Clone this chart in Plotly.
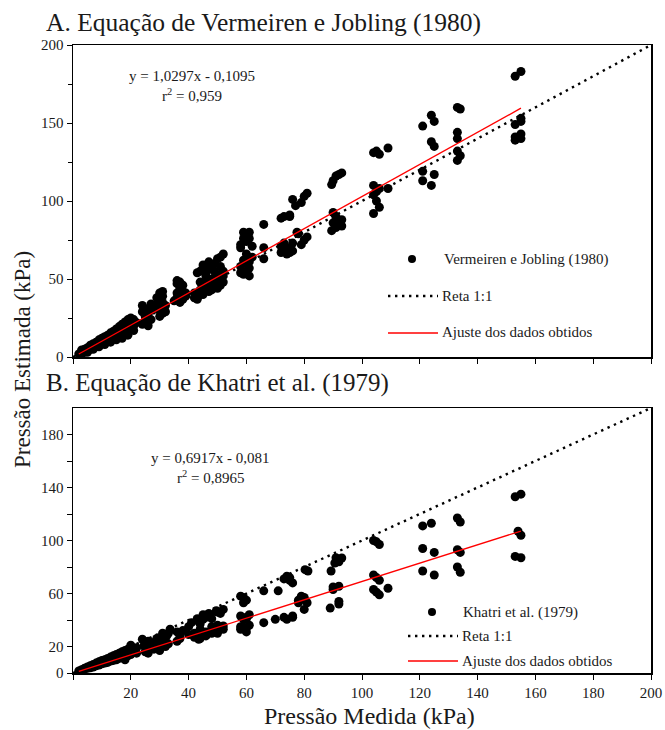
import plotly.graph_objects as go
from plotly.subplots import make_subplots

# ---------------- DATA ----------------
# Panel A: Vermeiren e Jobling (1980)  -- measured (x) vs estimated (y), kPa
xa = [2, 3, 3, 4, 4, 5, 5, 6, 6, 7, 7, 8, 8, 9, 9, 10, 10, 11, 11, 12, 12, 13, 13, 14, 14,
      15, 15, 16, 16, 17, 17, 18, 18, 19, 19, 20, 20, 19, 17, 21, 20,
      3, 4, 5, 6, 7, 8, 9, 10, 11, 12, 13, 14, 15, 16, 17, 18, 19, 20, 21, 22, 21, 15, 13, 11, 9, 7, 5, 3,
      24, 24, 25, 25, 26, 27, 27, 25, 26, 24, 27,
      29, 30, 31, 30, 29, 31, 30, 32, 31, 30, 31, 29, 31, 32, 30,
      36, 36, 38, 36, 38, 37, 35, 39, 38, 37, 37, 39, 36,
      45, 47, 50, 52, 44, 48, 46, 43, 45, 47, 49, 51, 51, 49, 47, 44, 46, 49, 51,
      42, 43, 44, 45, 46, 47, 48, 49, 50, 51, 52, 43, 45, 48, 50, 52, 52, 42, 44, 47, 49, 51,
      58, 59, 60, 61, 60, 58, 59, 60, 61, 60, 59, 61, 58, 62, 59, 61, 62, 58, 60, 61,
      66, 66, 66,
      72, 75, 72, 74, 75, 73, 76, 73, 74, 72,
      81, 76, 77, 75, 77.5, 81, 76, 75, 80, 80, 79, 78, 79,
      89.5, 91, 93, 90, 91, 93, 93, 89.5, 91, 92, 90, 92, 90,
      104, 106, 109, 104, 106, 104, 105, 106, 104, 109, 105, 105,
      121, 124, 125, 124, 125, 121, 125, 121, 124,
      133, 134, 133, 133, 133, 134, 133,
      153, 155, 155, 153, 155, 153, 155, 153, 155]
ya = [2, 2.5, 3.5, 4, 3, 5, 4, 6, 5, 7, 6, 8, 6.5, 9, 7.5, 10, 8.5, 11, 9, 12.5, 10, 13, 11, 14.5, 12,
      16, 13, 17, 14, 19, 15, 20, 16, 22, 17, 23, 18, 14, 12, 24, 21,
      4.5, 5, 6, 7.5, 8.5, 9.5, 11, 12, 13, 14, 15.5, 16.5, 18, 19.5, 21, 22.5, 24, 25, 20, 22, 17, 11, 9.5, 8, 6.5, 5, 3, 2,
      33, 29, 26, 22, 20, 34, 24, 31, 28, 21, 30,
      38, 41, 42, 36, 31, 28, 26, 33, 35, 38, 39, 34, 31, 29, 30,
      49, 47, 46, 38, 37, 35, 36, 39, 42, 48, 44, 41, 41,
      57, 61, 63, 66, 55, 58, 52, 54, 59, 56, 60, 64, 58, 55, 50, 48, 49, 51, 52,
      41, 39, 43, 45, 44, 46, 48, 47, 50, 49, 48, 37, 40, 43, 44, 52, 55, 38, 40, 42, 45, 46,
      72, 80, 78, 76, 74, 70, 62, 60, 57, 55, 53, 52, 58, 64, 76, 80, 71, 54, 66, 61,
      85, 70, 63,
      89, 91, 67, 66, 70, 73, 68, 90, 68, 71,
      105, 101, 97, 90, 80, 77, 73, 67, 75, 103, 99, 79, 72,
      110.5, 116, 118, 92.6, 90, 88, 84, 81, 83, 117, 113, 86, 86,
      131, 130, 134, 110, 108, 104, 100, 96, 92, 108, 132, 106,
      148, 155, 151, 138, 135, 119, 117, 113, 110,
      160, 159, 144, 140, 132, 129, 126,
      180, 183, 153, 149, 151, 141, 143, 139, 140]

# Panel B: Khatri et al. (1979)
xb = [2, 3, 4, 5, 5, 6, 6, 7, 7, 8, 8, 9, 9, 10, 10, 11, 11, 12, 12, 13, 13, 14, 14,
      15, 15, 16, 16, 17, 17, 18, 18, 19, 19, 20, 20, 20, 18,
      3, 4, 6, 8, 10, 12, 14, 16, 18, 20, 21, 22, 22, 19, 17, 15, 13, 11, 9, 7,
      24, 24.5, 25, 26, 27, 27, 25, 26, 28, 29, 31, 33, 32, 30,
      30, 28, 33.6, 32.4, 31, 30, 32, 33,
      36, 37, 36, 38, 37, 40, 41, 40,
      52, 49.6, 47.5, 45, 43.5, 46, 44, 43, 45, 47, 50, 51, 48,
      52, 50, 48, 45, 43.5, 46, 42, 44, 50, 48, 44, 46, 48, 50, 52, 42, 44,
      58, 59, 60, 58, 59, 60, 58, 59, 60, 61, 59, 60, 61, 58, 60,
      66, 66,
      71, 75, 74, 76, 76, 74, 70, 73, 75, 73, 76,
      80.3, 81.3, 79, 80, 78, 80, 80, 81, 78,
      93, 90.6, 89.3, 92, 90, 92, 89, 92, 91, 90, 92,
      104, 106, 104, 106, 104, 106, 109, 105, 105, 105,
      121, 124, 121, 125, 121, 125,
      133, 134, 133, 134, 133, 134,
      153, 155, 154, 155, 153, 155]
yb = [1.5, 2, 3, 3.5, 4.5, 4, 5.5, 5, 6.5, 5.5, 7.5, 6, 8.5, 7, 9.5, 7.5, 10, 8, 11, 9, 12, 9.5, 13,
      10, 14, 11, 15, 11.5, 16, 12, 17, 13, 18, 14, 19, 21, 10,
      2.5, 3.5, 5, 6.5, 8, 9.5, 11, 13, 14.5, 16, 18, 19, 15, 15.5, 13.5, 12, 10.5, 9, 7, 4.5,
      25.5, 20.5, 16, 15, 23, 19, 22, 24, 21, 26, 25, 30, 24, 26,
      23, 18, 33, 28, 30, 17, 20, 22,
      31, 26, 24, 32, 28, 35, 38, 29,
      48, 47, 43, 40.5, 39, 42, 37, 41, 44, 45, 46, 45, 41,
      35.5, 33, 32, 30.7, 25.5, 28, 27, 29, 36, 30, 33, 31, 35, 30, 33, 30, 26,
      58, 53, 55, 43, 40.5, 42, 33, 34.5, 31, 36, 57, 41, 44, 35, 34,
      62, 38,
      62, 72, 73, 68, 43, 40.5, 40.5, 42, 70, 71, 42,
      78, 77, 58, 55.5, 53, 48, 57, 53, 55,
      86.8, 83, 77, 65.5, 63, 54, 49, 84, 87, 65, 52,
      100, 97, 74, 70, 63, 59, 64, 99, 72, 61,
      111, 113, 94, 91, 77, 74,
      117, 114, 93, 91, 80, 76,
      133, 135, 107, 104, 88, 87]

# Regression coefficients (slope, intercept) and r^2 as printed on the chart
fit_a = [1.0297, -0.1095]
fit_b = [0.6917, -0.081]
eq_a = ["y = 1,0297x - 0,1095", "r<sup>2</sup> = 0,959"]
eq_b = ["y = 0,6917x - 0,081", "r<sup>2</sup> = 0,8965"]
one_to_one = [0, 200]

title_a = "A. Equação de Vermeiren e Jobling (1980)"
title_b = "B. Equação de Khatri et al. (1979)"
legend_a = ["Vermeiren e Jobling (1980)", "Reta 1:1", "Ajuste dos dados obtidos"]
legend_b = ["Khatri et al. (1979)", "Reta 1:1", "Ajuste dos dados obtidos"]
x_ticks = [0, 20, 40, 60, 80, 100, 120, 140, 160, 180, 200]
x_labelled = [20, 40, 60, 80, 100, 120, 140, 160, 180, 200]
ya_ticks = [0, 50, 100, 150, 200]
ya_minor = [25, 75, 125, 175]
yb_ticks = [0, 20, 60, 100, 140, 180]
yb_minor = [40, 80, 120, 160]
ytitle = "Pressão Estimada (kPa)"
xtitle = "Pressão Medida (kPa)"

# ---------------- FIGURE ----------------
W, H = 665, 730
AX_L, AX_R, AX_T, AX_B = 73, 651, 45, 673      # plot-area edges in page pixels
L, R, T, B = AX_L, W - AX_R, AX_T, H - AX_B
PW, PH = W - L - R, H - T - B
FONT = "Liberation Serif"
TXT = "#1a1a1a"


def px(xp):
    return (xp - AX_L) / PW


def py(yp):
    return (AX_B - yp) / PH


fig = make_subplots(rows=2, cols=1)
fig.update_layout(
    xaxis=dict(domain=[0, 1], anchor="y"),
    yaxis=dict(domain=[py(357), 1], anchor="x"),
    xaxis2=dict(domain=[0, 1], anchor="y2"),
    yaxis2=dict(domain=[0, py(408)], anchor="x2"),
)

dot_line = dict(color="black", width=2.4, dash="2.4px,4.6px")
red_line = dict(color="#ff0000", width=1.3)


def add_panel(x, y, fit, row):
    fig.add_trace(go.Scatter(x=one_to_one, y=one_to_one, mode="lines", line=dot_line,
                             showlegend=False, hoverinfo="skip"), row=row, col=1)
    fig.add_trace(go.Scatter(x=x, y=y, mode="markers",
                             marker=dict(color="black", size=9, line=dict(width=0)),
                             showlegend=False), row=row, col=1)
    x0, x1 = min(x), max(x)
    fig.add_trace(go.Scatter(x=[x0, x1], y=[fit[0] * x0 + fit[1], fit[0] * x1 + fit[1]],
                             mode="lines", line=red_line, showlegend=False,
                             hoverinfo="skip"), row=row, col=1)


add_panel(xa, ya, fit_a, 1)
add_panel(xb, yb, fit_b, 2)

axis_common = dict(showline=True, linecolor="black", linewidth=1.5, mirror=True,
                   ticks="outside", ticklen=5, tickwidth=1, tickcolor="black",
                   showgrid=False, zeroline=False, automargin=False,
                   tickfont=dict(family=FONT, size=15, color=TXT))
minor_common = dict(ticks="outside", ticklen=5, tickwidth=1, tickcolor="black", showgrid=False)

fig.update_xaxes(range=[0, 200], tickvals=x_ticks, showticklabels=False, row=1, col=1, **axis_common)
fig.update_xaxes(range=[0, 200], tickvals=x_labelled, minor=dict(tickvals=[0], **minor_common),
                 row=2, col=1, **axis_common)
fig.update_yaxes(range=[0, 200], tickvals=ya_ticks,
                 minor=dict(tickvals=ya_minor, **dict(minor_common, ticklen=4)),
                 row=1, col=1, **axis_common)
fig.update_yaxes(range=[0, 200], tickvals=yb_ticks, minor=dict(tickvals=yb_minor, **minor_common),
                 row=2, col=1, **axis_common)

ann = []


def text(x, y, s, size, xanchor="center", yanchor="middle", angle=0):
    ann.append(dict(x=px(x), y=py(y), xref="paper", yref="paper", text=s, showarrow=False,
                    xanchor=xanchor, yanchor=yanchor, textangle=angle,
                    font=dict(family=FONT, size=size, color=TXT)))


# panel titles
text(44, 22, title_a, 25.5, xanchor="left")
text(44, 383, title_b, 25, xanchor="left")
# axis titles
text(22, 360, ytitle, 23, angle=-90)
text(369, 716, xtitle, 24)
# equations
text(192, 76, eq_a[0], 15)
text(192, 95, eq_a[1], 15)
text(210, 458, eq_b[0], 15)
text(210, 477, eq_b[1], 15)
# legends (text)
text(442, 259, legend_a[0], 15, xanchor="left")
text(440, 296, legend_a[1], 15, xanchor="left")
text(440, 332, legend_a[2], 15, xanchor="left")
text(461, 612, legend_b[0], 15, xanchor="left")
text(460, 636, legend_b[1], 15, xanchor="left")
text(460, 661, legend_b[2], 15, xanchor="left")

shapes = []


def hline(x0, x1, y, line):
    shapes.append(dict(type="line", xref="paper", yref="paper", x0=px(x0), x1=px(x1),
                       y0=py(y), y1=py(y), line=line))


def dot(x, y, r=4):
    shapes.append(dict(type="circle", xref="paper", yref="paper",
                       x0=px(x - r), x1=px(x + r), y0=py(y + r), y1=py(y - r),
                       fillcolor="black", line=dict(width=0)))


dot(412, 259)
hline(388, 438, 296, dot_line)
hline(388, 438, 333, red_line)
dot(432, 612)
hline(408, 458, 636, dot_line)
hline(408, 458, 661, red_line)

fig.update_layout(template="none", width=W, height=H, margin=dict(l=L, r=R, t=T, b=B, pad=0),
                  paper_bgcolor="white", plot_bgcolor="white",
                  annotations=ann, shapes=shapes, showlegend=False,
                  font=dict(family=FONT, color=TXT))

# remove the browser's default 8px page margin so the 665x730 figure fills the window exactly
fig.write_html("out.html",
               config={"displayModeBar": False, "staticPlot": True},
               post_script="document.body.style.margin='0px';document.body.style.overflow='hidden';")
